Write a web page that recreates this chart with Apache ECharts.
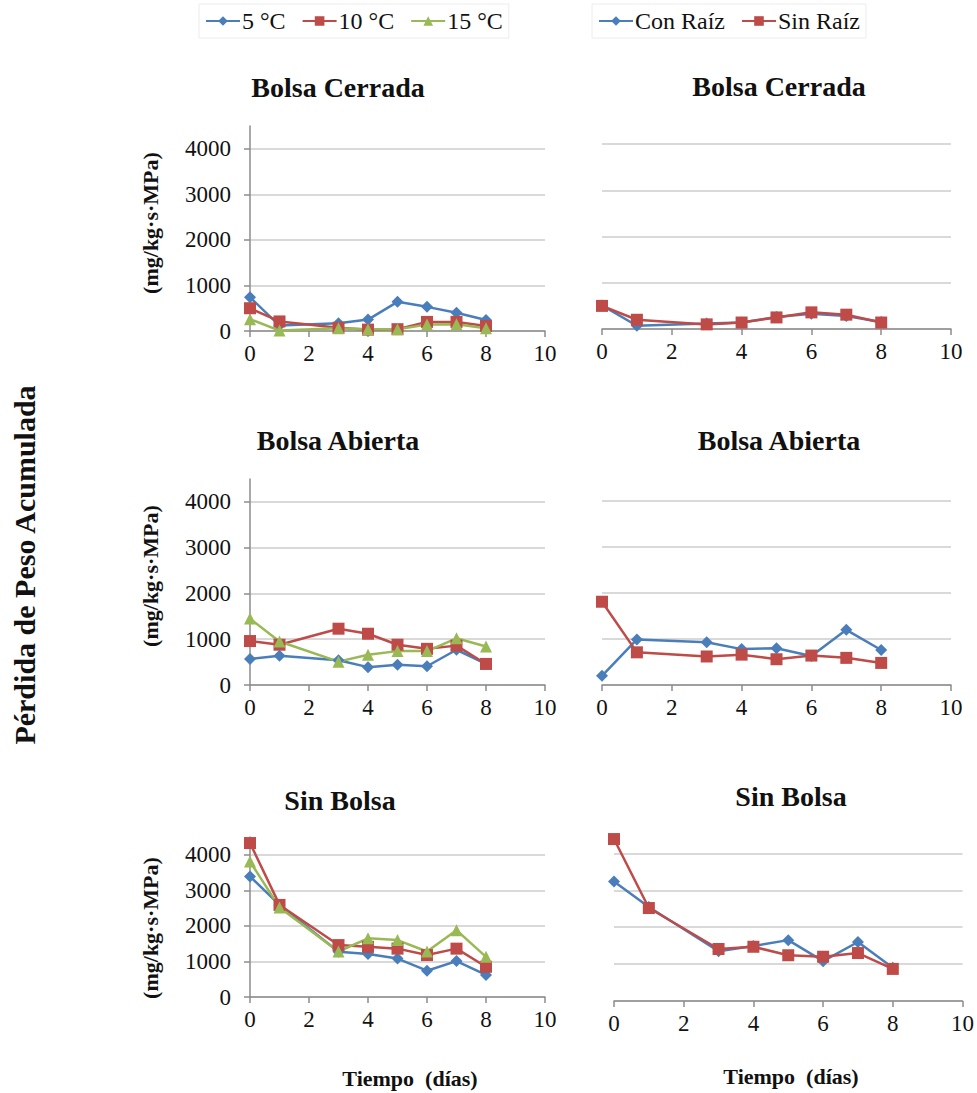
<!DOCTYPE html>
<html>
<head>
<meta charset="utf-8">
<script src="https://cdn.jsdelivr.net/npm/echarts@6/dist/echarts.min.js"></script>
<style>html,body{margin:0;padding:0;background:#fff}#c{width:977px;height:1093px}</style>
</head>
<body>
<div id="c"></div>
<script>
// ---- data ----
const days = [0, 1, 3, 4, 5, 6, 7, 8];
const xTicks = [0, 2, 4, 6, 8, 10];
const yTicks = [0, 1000, 2000, 3000, 4000];
const tempNames = ['5 °C', '10 °C', '15 °C'];
const rootNames = ['Con Raíz', 'Sin Raíz'];
const panelTitles = ['Bolsa Cerrada', 'Bolsa Abierta', 'Sin Bolsa'];

// Bolsa Cerrada
const cerrada5 = [740, 120, 170, 250, 640, 530, 400, 240];
const cerrada10 = [500, 210, 70, 30, 40, 200, 200, 110];
const cerrada15 = [260, 10, 60, 40, 40, 140, 150, 60];
const cerradaCon = [510, 70, 120, 140, 260, 330, 280, 150];
const cerradaSin = [500, 200, 100, 140, 250, 360, 310, 140];
// Bolsa Abierta
const abierta5 = [570, 640, 540, 390, 440, 410, 770, 460];
const abierta10 = [960, 880, 1230, 1120, 880, 790, 860, 460];
const abierta15 = [1450, 950, 510, 660, 740, 740, 1020, 840];
const abiertaCon = [200, 990, 930, 780, 800, 630, 1200, 760];
const abiertaSin = [1810, 710, 620, 660, 560, 640, 590, 480];
// Sin Bolsa
const sin5 = [3390, 2590, 1270, 1210, 1080, 740, 1010, 620];
const sin10 = [4330, 2590, 1460, 1410, 1360, 1180, 1360, 850];
const sin15 = [3810, 2520, 1280, 1650, 1600, 1280, 1880, 1130];
const sinCon = [3240, 2550, 1350, 1490, 1650, 1080, 1600, 900];
const sinSin = [4390, 2520, 1410, 1470, 1240, 1200, 1300, 870];

// ---- styling ----
const FONT = "'Liberation Serif', 'DejaVu Serif', serif";
const BLUE = '#4a7ebb', RED = '#be4b48', GREEN = '#98b954';
const AXIS = '#8c8c8c', GRID = '#d9d9d9';

const grids = [
  {left: 250, top: 126, width: 295, height: 205},
  {left: 602, top: 121, width: 349, height: 208},
  {left: 250, top: 479, width: 295, height: 206},
  {left: 602, top: 478, width: 349, height: 207},
  {left: 250, top: 837, width: 295, height: 160},
  {left: 614, top: 835, width: 349, height: 166}
];

const xAxes = grids.map((g, i) => ({
  type: 'value', gridIndex: i, min: 0, max: 10, interval: 2,
  axisLine: {show: true, lineStyle: {color: AXIS, width: 1.5}},
  axisTick: {show: true, length: 6, lineStyle: {color: AXIS, width: 1.5}, customValues: xTicks},
  axisLabel: {fontFamily: FONT, fontSize: 23, color: '#111', margin: 11, customValues: xTicks,
              formatter: v => String(v)},
  splitLine: {show: false}
}));

const yAxes = grids.map((g, i) => {
  const left = i % 2 === 0;
  return {
    type: 'value', gridIndex: i, min: 0, max: 4500,
    axisLine: {show: left, lineStyle: {color: AXIS, width: 1.5}},
    axisTick: {show: left, length: 6, lineStyle: {color: AXIS, width: 1.5}, customValues: yTicks},
    axisLabel: {show: left, fontFamily: FONT, fontSize: 23, color: '#111', margin: 19, customValues: yTicks,
                formatter: v => String(v)},
    splitLine: {show: true, lineStyle: {color: GRID, width: 2}}
  };
});

function mk(name, vals, idx, color, symbol, size) {
  return {
    name: name, type: 'line', xAxisIndex: idx, yAxisIndex: idx,
    data: days.map((d, k) => [d, vals[k]]),
    symbol: symbol, symbolSize: size,
    lineStyle: {color: color, width: 2.5},
    itemStyle: {color: color},
    animation: false
  };
}
function tempSeries(idx, a, b, c) {
  return [
    mk(tempNames[0], a, idx, BLUE, 'diamond', 12),
    mk(tempNames[1], b, idx, RED, 'rect', 12),
    mk(tempNames[2], c, idx, GREEN, 'triangle', 12)
  ];
}
function rootSeries(idx, a, b) {
  return [
    mk(rootNames[0], a, idx, BLUE, 'diamond', 12),
    mk(rootNames[1], b, idx, RED, 'rect', 12)
  ];
}
const series = [].concat(
  tempSeries(0, cerrada5, cerrada10, cerrada15),
  rootSeries(1, cerradaCon, cerradaSin),
  tempSeries(2, abierta5, abierta10, abierta15),
  rootSeries(3, abiertaCon, abiertaSin),
  tempSeries(4, sin5, sin10, sin15),
  rootSeries(5, sinCon, sinSin)
);

const titlePos = [[338, 87], [779, 86], [338, 440], [779, 440], [340, 800], [791, 796]];
const titleText = (t, x, y) => ({
  type: 'text', x: x, y: y,
  style: {text: t, font: "bold 28px " + FONT, fill: '#111', align: 'center', verticalAlign: 'middle'}
});
const vText = (t, x, y, size) => ({
  type: 'text', x: x, y: y, rotation: Math.PI / 2,
  style: {text: t, font: "bold " + size + "px " + FONT, fill: '#111', align: 'center', verticalAlign: 'middle'}
});

const graphic = [];
titlePos.forEach((p, i) => graphic.push(titleText(panelTitles[Math.floor(i / 2)], p[0], p[1])));
[223, 576, 928].forEach(y => graphic.push(vText('(mg/kg·s·MPa)', 150, y, 22)));
graphic.push(vText('Pérdida de Peso Acumulada', 24, 565, 30));
graphic.push({type: 'text', x: 410, y: 1078,
  style: {text: 'Tiempo  (días)', font: "bold 22px " + FONT, fill: '#111', align: 'center', verticalAlign: 'middle'}});
graphic.push({type: 'text', x: 791, y: 1076,
  style: {text: 'Tiempo  (días)', font: "bold 22px " + FONT, fill: '#111', align: 'center', verticalAlign: 'middle'}});

const legendCommon = {
  top: 4, itemWidth: 34, itemHeight: 12, itemGap: 16, selectedMode: false,
  textStyle: {fontFamily: FONT, fontSize: 24, color: '#111', padding: [0, 0, 0, -3]},
  borderColor: '#ececec', borderWidth: 1, padding: [5, 6]
};
const option = {
  backgroundColor: '#fff',
  animation: false,
  legend: [
    Object.assign({}, legendCommon, {left: 199, data: tempNames}),
    Object.assign({}, legendCommon, {left: 592, data: rootNames})
  ],
  grid: grids,
  xAxis: xAxes,
  yAxis: yAxes,
  series: series,
  graphic: graphic
};
const chart = echarts.init(document.getElementById('c'), null, {renderer: 'svg'});
chart.setOption(option);
</script>
</body>
</html>
